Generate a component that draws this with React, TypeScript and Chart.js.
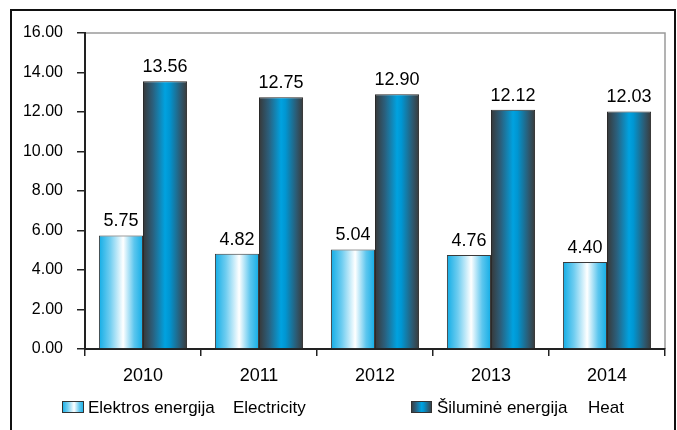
import React, { useEffect, useRef } from 'react';
import { Chart, registerables } from 'chart.js';
Chart.register(...registerables);

const years = ['2010', '2011', '2012', '2013', '2014'];
const electricity = [5.75, 4.82, 5.04, 4.76, 4.4];
const heat = [13.56, 12.75, 12.9, 12.12, 12.03];
const seriesNames = ['Elektros energija', 'Šiluminė energija'];
const seriesNamesEn = ['Electricity', 'Heat'];

const CAT_PCT = 0.76;
const FONT = '"Liberation Sans", Arial, sans-serif';

function makeGradient(c: CanvasRenderingContext2D, left: number, w: number, kind: number) {
  const g = c.createLinearGradient(left, 0, left + w, 0);
  if (kind === 0) {
    g.addColorStop(0, '#12ade6');
    g.addColorStop(0.25, '#6fcdf0');
    g.addColorStop(0.55, '#ffffff');
    g.addColorStop(0.8, '#5cc6ee');
    g.addColorStop(1, '#12ade6');
  } else {
    g.addColorStop(0, '#383838');
    g.addColorStop(0.22, '#2b5f7c');
    g.addColorStop(0.5, '#00a2e0');
    g.addColorStop(0.6, '#0096d2');
    g.addColorStop(0.85, '#2c5a72');
    g.addColorStop(1, '#3a3a3a');
  }
  return g;
}

function barBg(kind: number) {
  return (ctx: any) => {
    const chart = ctx.chart;
    const xs = chart.scales?.x;
    if (!xs || ctx.dataIndex === undefined || !xs.width) return kind === 0 ? '#12ade6' : '#00a2e0';
    const cat = xs.width / years.length;
    const center = xs.getPixelForValue(ctx.dataIndex);
    const barW = (cat * CAT_PCT) / 2;
    const left = center - (cat * CAT_PCT) / 2 + kind * barW;
    return makeGradient(chart.ctx, left, barW, kind);
  };
}

const framePlugin = {
  id: 'frame',
  beforeDraw(chart: any) {
    const c = chart.ctx;
    c.save();
    c.fillStyle = '#ffffff';
    c.fillRect(0, 0, chart.width, chart.height);
    c.strokeStyle = '#111';
    c.lineWidth = 2;
    c.strokeRect(11, 10, 664, 440);
    const a = chart.chartArea;
    c.strokeStyle = '#9a9a9a';
    c.lineWidth = 1.5;
    c.beginPath();
    c.moveTo(a.left, a.top);
    c.lineTo(a.right, a.top);
    c.lineTo(a.right, a.bottom);
    c.stroke();
    c.restore();
  },
  afterDatasetsDraw(chart: any) {
    const c = chart.ctx;
    c.save();
    c.font = `18px ${FONT}`;
    c.fillStyle = '#000';
    c.textAlign = 'center';
    c.textBaseline = 'alphabetic';
    chart.data.datasets.forEach((ds: any, di: number) => {
      const meta = chart.getDatasetMeta(di);
      meta.data.forEach((el: any, i: number) => {
        c.fillText(Number(ds.data[i]).toFixed(2), el.x, el.y - 9);
      });
    });
    c.restore();
  },
  afterDraw(chart: any) {
    const c = chart.ctx;
    c.save();
    const boxes = [
      { x: 62, w: 22, tx: 88, ex: 233 },
      { x: 411, w: 21, tx: 437, ex: 588 },
    ];
    boxes.forEach((b, k) => {
      c.fillStyle = makeGradient(c, b.x, b.w, k);
      c.fillRect(b.x, 401, b.w, 12);
      c.strokeStyle = '#333';
      c.lineWidth = 1;
      c.strokeRect(b.x + 0.5, 401.5, b.w - 1, 11);
      c.fillStyle = '#000';
      c.font = `17px ${FONT}`;
      c.textAlign = 'left';
      c.textBaseline = 'alphabetic';
      c.fillText(seriesNames[k], b.tx, 413);
      c.fillText(seriesNamesEn[k], b.ex, 413);
    });
    c.restore();
  },
};

export default function App() {
  const ref = useRef<HTMLCanvasElement>(null);
  useEffect(() => {
    if (!ref.current) return;
    const chart = new Chart(ref.current, {
      type: 'bar',
      data: {
        labels: years,
        datasets: [
          {
            label: seriesNames[0],
            data: electricity,
            backgroundColor: barBg(0),
            borderColor: '#3a3a3a',
            borderWidth: 1,
            categoryPercentage: CAT_PCT,
            barPercentage: 1,
          },
          {
            label: seriesNames[1],
            data: heat,
            backgroundColor: barBg(1),
            borderColor: '#2a2a2a',
            borderWidth: 1,
            categoryPercentage: CAT_PCT,
            barPercentage: 1,
          },
        ],
      },
      options: {
        responsive: false,
        animation: false,
        devicePixelRatio: 1,
        layout: { padding: { left: 0, top: 33, right: 12, bottom: 0 } },
        plugins: { legend: { display: false }, tooltip: { enabled: false } },
        scales: {
          x: {
            afterFit: (s: any) => {
              s.height = 81;
            },
            grid: { display: true, drawOnChartArea: false, drawTicks: true, tickLength: 7, color: '#222', lineWidth: 1.5, offset: true },
            border: { display: true, color: '#222', width: 2 },
            ticks: { color: '#000', font: { family: FONT, size: 18 }, padding: 9 },
          },
          y: {
            min: 0,
            max: 16,
            afterFit: (s: any) => {
              s.width = 85;
            },
            grid: { display: true, drawOnChartArea: false, drawTicks: true, tickLength: 8, color: '#222', lineWidth: 1.5 },
            border: { display: true, color: '#222', width: 2 },
            ticks: {
              stepSize: 2,
              color: '#000',
              font: { family: FONT, size: 16 },
              padding: 14,
              callback: (v: any) => Number(v).toFixed(2),
            },
          },
        },
      },
      plugins: [framePlugin],
    });
    return () => chart.destroy();
  }, []);
  return (
    <div style={{ position: 'fixed', left: 0, top: 0, width: 677, height: 430 }}>
      <canvas ref={ref} width={677} height={430} style={{ display: 'block' }} />
    </div>
  );
}
